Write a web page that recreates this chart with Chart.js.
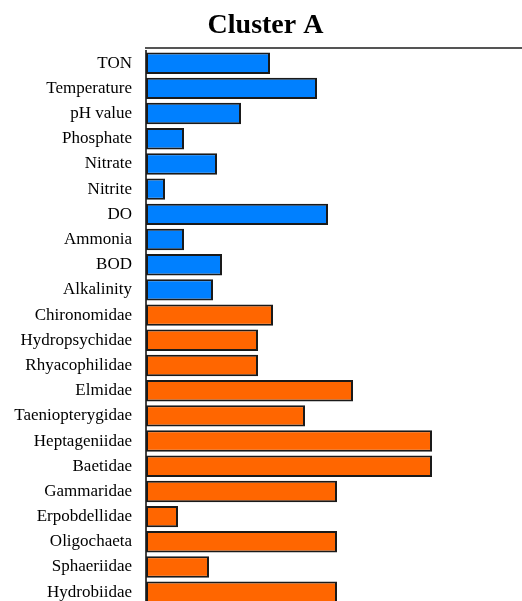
<!DOCTYPE html>
<html>
<head>
<meta charset="utf-8">
<script src="https://cdn.jsdelivr.net/npm/chart.js@4"></script>
<style>
    html, body { margin: 0; padding: 0; background: #fff; overflow: hidden; }
    #wrap { width: 522px; height: 621px; }
</style>
</head>
<body>
<div id="wrap"><canvas id="clusterChart"></canvas></div>
<script>
// Categories, top to bottom
const labels = [
    'TON', 'Temperature', 'pH value', 'Phosphate', 'Nitrate', 'Nitrite', 'DO',
    'Ammonia', 'BOD', 'Alkalinity',
    'Chironomidae', 'Hydropsychidae', 'Rhyacophilidae', 'Elmidae',
    'Taeniopterygidae', 'Heptageniidae', 'Baetidae', 'Gammaridae',
    'Erpobdellidae', 'Oligochaeta', 'Sphaeriidae', 'Hydrobiidae'
];

// Values (arbitrary units)
const values = [
    6.2, 8.55, 4.75, 1.9, 3.55, 0.95, 9.1, 1.9, 3.8, 3.35,
    6.35, 5.6, 5.6, 10.35, 7.95, 14.3, 14.3, 9.55, 1.6, 9.55, 3.15, 9.55
];

// first 10 are environmental variables (blue), the rest are taxa (orange)
const groups = labels.map((_, i) => i < 10 ? 'env' : 'taxa');
const groupColors = { env: '#0080ff', taxa: '#ff6600' };

const xMax = 18.8;
const serif = '"Liberation Serif", "Times New Roman", serif';

document.addEventListener('DOMContentLoaded', () => {
    const ctx = document.getElementById('clusterChart');
    new Chart(ctx, {
        type: 'bar',
        data: {
            labels: labels,
            datasets: [{
                data: values,
                backgroundColor: groups.map(g => groupColors[g]),
                borderColor: '#1a1a1a',
                borderWidth: 2,
                borderSkipped: false,
                barPercentage: 0.85,
                categoryPercentage: 1.0
            }]
        },
        options: {
            indexAxis: 'y',
            responsive: true,
            maintainAspectRatio: false,
            animation: false,
            layout: { padding: { left: 9, right: 0, top: 0, bottom: 0 } },
            scales: {
                x: {
                    position: 'top',
                    weight: 0,
                    min: 0,
                    max: xMax,
                    grid: { display: false },
                    ticks: { display: false },
                    border: { display: false },
                    // small gap between the top line and the first bar
                    afterFit: (scale) => { scale.height = 3; }
                },
                xTop: {
                    position: 'top',
                    axis: 'x',
                    weight: 1,
                    min: 0,
                    max: xMax,
                    grid: { display: false },
                    ticks: { display: false },
                    border: { display: true, color: '#555', width: 2 },
                    afterFit: (scale) => { scale.height = 0; }
                },
                y: {
                    grid: { display: false },
                    border: { display: true, color: '#444', width: 2 },
                    ticks: {
                        color: '#000',
                        padding: 6,
                        font: { family: serif, size: 17 }
                    },
                    afterFit: (scale) => { scale.width = 137; }
                }
            },
            plugins: {
                legend: { display: false },
                tooltip: { enabled: false },
                title: {
                    display: true,
                    text: 'Cluster A',
                    color: '#000',
                    font: { family: serif, size: 28, weight: 'bold' },
                    padding: { top: 9, bottom: 5 }
                }
            }
        }
    });
});
</script>
</body>
</html>
